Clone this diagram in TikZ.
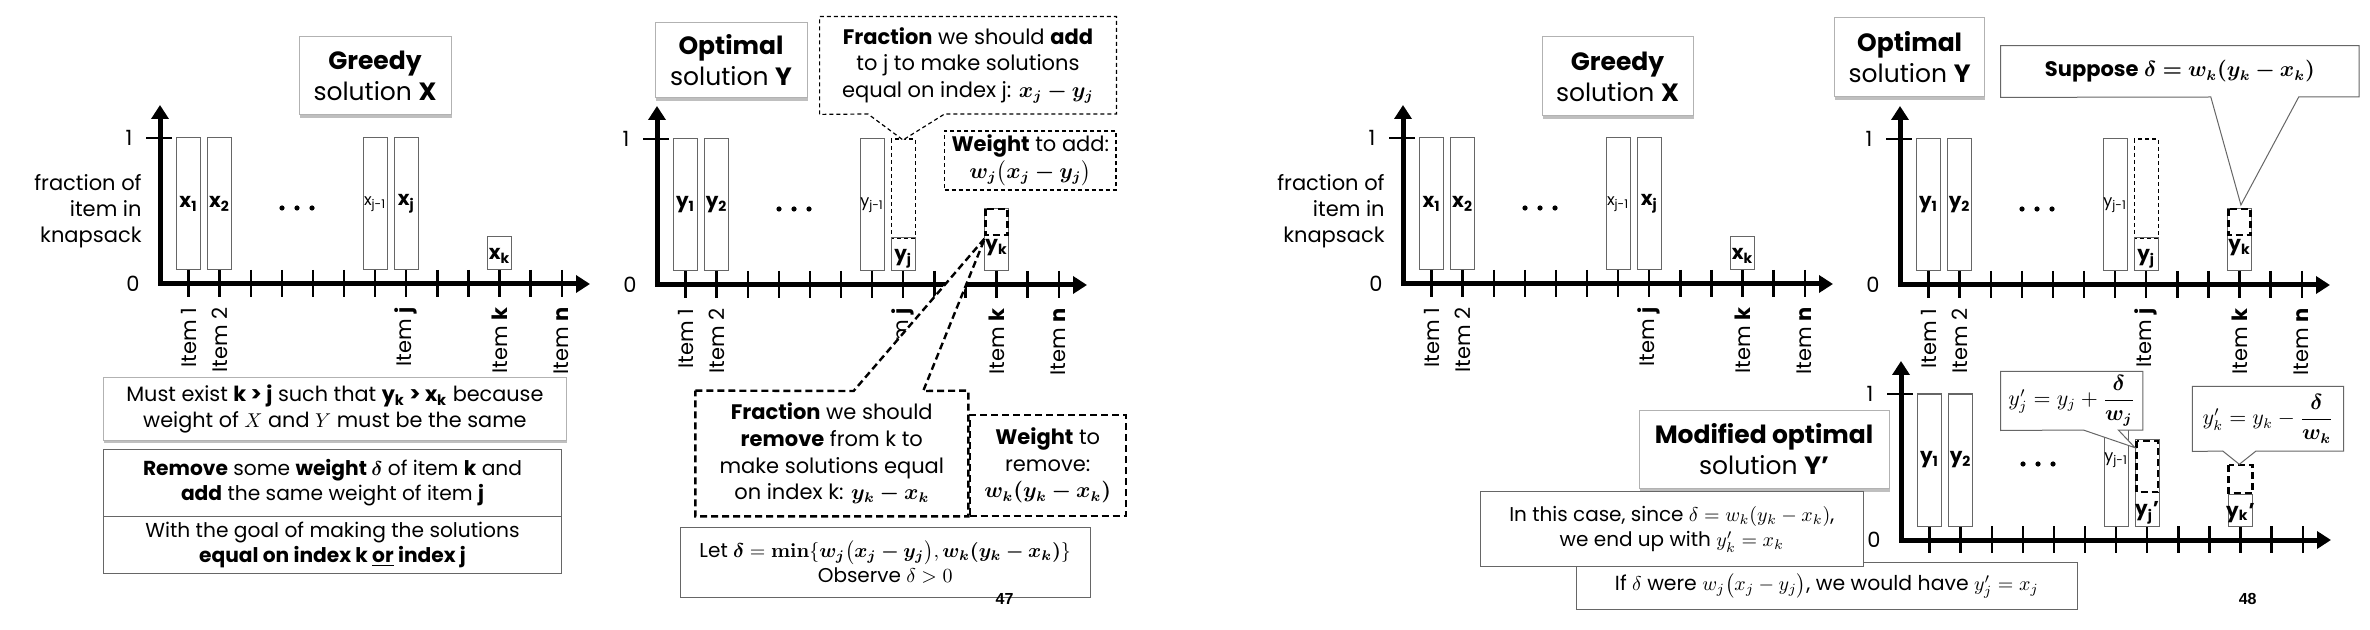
\documentclass[tikz,border=0pt]{standalone}
\usepackage{amsmath}
\usepackage{amssymb}
\usepackage{bm}
\usepackage[no-math]{fontspec}
\setmainfont{Poppins}
\newfontfamily\numfont{Liberation Sans}
\usetikzlibrary{arrows.meta,shadows}

\tikzset{
  axisline/.style={line width=2.5pt, line join=miter, {Triangle[length=7pt,width=8.5pt]}-{Triangle[length=7pt,width=8.5pt]}},
  tickline/.style={line width=1.2pt},
  barline/.style={draw=black!60, line width=0.5pt},
  bar/.style={barline, minimum width=12pt, minimum height=66pt, inner sep=0pt, font=\fontsize{10}{12}\selectfont\bfseries},
  barlbl/.style={inner sep=0pt, font=\fontsize{10}{12}\selectfont\bfseries},
  smallbar/.style={font=\fontsize{8}{9}\selectfont},
  itemlbl/.style={rotate=90, anchor=east, inner sep=0pt, font=\fontsize{10.5}{12}\selectfont},
  axlbl/.style={inner sep=0pt, font=\fontsize{10.5}{13}\selectfont},
  titlebox/.style={draw=black!30, line width=0.5pt, fill=white, align=center, inner sep=0pt,
    drop shadow={shadow xshift=0.4pt, shadow yshift=-1.6pt, fill=black!50}, font=\fontsize{12.5}{15.5}\selectfont},
  textbox/.style={draw=black!60, line width=0.5pt, fill=white, align=center, inner sep=0pt, font=\fontsize{10.1}{12.5}\selectfont},
  calltext/.style={fill=white, align=center, inner sep=0pt, font=\fontsize{10.5}{13.3}\selectfont},
  thindash/.style={line width=0.6pt, dash pattern=on 2pt off 1.5pt},
  thickdash/.style={line width=1.2pt, dash pattern=on 3.5pt off 2pt},
  pagenum/.style={inner sep=0pt, font=\numfont\bfseries\fontsize{8}{9}\selectfont}
}

% axes, ticks, 0/1 and dots of one chart
\newcommand{\chartaxes}[1]{%
  \draw[axisline] (0,-179) -- (0,0) -- (430,0);
  \draw[tickline] (-14,-146) -- (12,-146);
  \foreach \i in {0,...,12} \draw[tickline] ({28.5+31.1*\i},-14) -- ({28.5+31.1*\i},13);
  \node[axlbl] (#1one) at (-31,-146) {1};
  \node[axlbl] (#1zero) at (-27,0) {0};
  \foreach \d in {-15,0,15} \fill (137+\d,-76) circle (1.3pt);
}
% item names under the axis
\newcommand{\itemlabels}[1]{%
  \node[itemlbl] (#1it1) at (28.5,23) {Item 1};
  \node[itemlbl] (#1it2) at (59.6,23) {Item 2};
  \node[itemlbl] (#1itj) at (246.2,23) {Item \textbf{j}};
  \node[itemlbl] (#1itk) at (339.5,23) {Item \textbf{k}};
  \node[itemlbl] (#1itn) at (401.7,23) {Item \textbf{n}};
}

\begin{document}
\begin{tikzpicture}[x=0.5pt,y=0.5pt,yscale=-1,xscale=1]
\useasboundingbox (0,0) rectangle (2370,630);
\fill[white] (0,0) rectangle (2370,630);

%%%%%%%%%%%%%%%% slide 47

% greedy chart
\begin{scope}[shift={(160,284)}]
\chartaxes{ga}
\itemlabels{ga}
\node[axlbl, align=right, anchor=east] (gafrac) at (-18,-73) {fraction of\\item in\\knapsack};
\node[bar] (gax1) at (28.5,-80) {x\textsubscript{1}};
\node[bar] (gax2) at (59.6,-80) {x\textsubscript{2}};
\node[bar, smallbar] (gaxj1) at (215.1,-80) {x\textsubscript{j-1}};
\node[bar] (gaxj) at (246.2,-80) {x\textsubscript{j}};
\draw[barline] (327.5,-47) rectangle (351.5,-14);
\node[barlbl] (gaxk) at (339.5,-28) {x\textsubscript{k}};
\end{scope}

% optimal chart
\begin{scope}[shift={(657,285)}]
\chartaxes{oa}
\itemlabels{oa}
\node[bar] (oay1) at (28.5,-80) {y\textsubscript{1}};
\node[bar] (oay2) at (59.6,-80) {y\textsubscript{2}};
\node[bar, smallbar] (oayj1) at (215.1,-80) {y\textsubscript{j-1}};
\draw[thindash] (234.2,-146) rectangle (258.2,-47);
\draw[barline] (234.2,-47) rectangle (258.2,-14);
\node[barlbl] (oayj) at (246.2,-26) {y\textsubscript{j}};
\draw[barline] (327.5,-76) rectangle (351.5,-14);
\draw[thickdash] (328.5,-76) rectangle (350.5,-50);
\node[barlbl] (oayk) at (339.5,-37) {y\textsubscript{k}};
\end{scope}

% Text Node
\node[titlebox, minimum width=76pt, minimum height=39pt] (greedya) at (375,76) {\textbf{Greedy}\\solution \textbf{X}};
% Text Node
\node[titlebox, minimum width=76pt, minimum height=37.5pt] (opta) at (731,60.5) {\textbf{Optimal}\\solution \textbf{Y}};

% callout: fraction to add
\coordinate (fraddL) at (868,114);
\coordinate (fraddR) at (944.6,114);
\coordinate (fraddT) at (903,140);
\node[calltext, minimum width=148pt, minimum height=48.5pt] (fradd) at (968,65.5) {\textbf{Fraction} we should \textbf{add}\\to j to make solutions\\equal on index j: $\bm{x_j-y_j}$};
\fill[white] (fraddL) -- (fraddT) -- (fraddR) -- cycle;
\draw[thindash] (fradd.south west) |- (fradd.north east) |- (fraddR) -- (fraddT) -- (fraddL) -- cycle;

% Text Node
\node[calltext, draw, thindash, minimum width=85.7pt, minimum height=29.5pt] (wadd) at (1030.3,160.5) {\textbf{Weight} to add:\\$\bm{w_j\big(x_j-y_j\big)}$};

% callout: fraction to remove
\coordinate (frremL) at (853.6,391);
\coordinate (frremR) at (923.2,391);
\coordinate (frremT) at (985,238);
\node[calltext, minimum width=136.1pt, minimum height=62.5pt] (frrem) at (831.8,453.5) {\textbf{Fraction} we should\\\textbf{remove} from k to\\make solutions equal\\on index k: $\bm{y_k-x_k}$};
\fill[white] (frremL) -- (frremT) -- (frremR) -- cycle;
\draw[thickdash] (frrem.north west) -- (frremL) -- (frremT) -- (frremR) -- (frrem.north east) |- (frrem.south west) -- cycle;

% Text Node
\node[calltext, draw, thickdash, minimum width=78pt, minimum height=50.5pt] (wrem) at (1047.7,465.5) {\textbf{Weight} to\\remove:\\$\bm{w_k(y_k-x_k)}$};

% Text Node
\node[textbox, font=\fontsize{10}{12.5}\selectfont, minimum width=205pt, minimum height=35pt] (letdelta) at (885.2,562) {Let $\bm{\delta}=\mathbf{min}\{\bm{w_j\big(x_j-y_j\big)},\bm{w_k(y_k-x_k)}\}$\\Observe $\delta>0$};

% Text Node
\node[titlebox, font=\fontsize{10.4}{12.8}\selectfont, minimum width=231.3pt, minimum height=31pt] (musta) at (334.9,409) {Must exist \textbf{k > j} such that \textbf{y\textsubscript{k} > x\textsubscript{k}} because\\weight of $X$ and $Y$ must be the same};
% Text Node
\node[textbox, minimum width=229pt, minimum height=33.5pt] (removea) at (332.5,482.5) {\textbf{Remove} some \textbf{weight $\bm{\delta}$} of item \textbf{k} and\\\textbf{add} the same weight of item \textbf{j}};
% Text Node
\node[textbox, minimum width=229pt, minimum height=28.5pt] (goala) at (332.5,544.5) {With the goal of making the solutions\\\textbf{equal on index k \underline{or} index j}};

\node[pagenum] (pga) at (1004.6,599) {47};

%%%%%%%%%%%%%%%% slide 48

% greedy chart
\begin{scope}[shift={(1403,284)}]
\chartaxes{gb}
\itemlabels{gb}
\node[axlbl, align=right, anchor=east] (gbfrac) at (-18,-73) {fraction of\\item in\\knapsack};
\node[bar] (gbx1) at (28.5,-80) {x\textsubscript{1}};
\node[bar] (gbx2) at (59.6,-80) {x\textsubscript{2}};
\node[bar, smallbar] (gbxj1) at (215.1,-80) {x\textsubscript{j-1}};
\node[bar] (gbxj) at (246.2,-80) {x\textsubscript{j}};
\draw[barline] (327.5,-47) rectangle (351.5,-14);
\node[barlbl] (gbxk) at (339.5,-28) {x\textsubscript{k}};
\end{scope}

% optimal chart
\begin{scope}[shift={(1900,285)}]
\chartaxes{ob}
\itemlabels{ob}
\node[bar] (oby1) at (28.5,-80) {y\textsubscript{1}};
\node[bar] (oby2) at (59.6,-80) {y\textsubscript{2}};
\node[bar, smallbar] (obyj1) at (215.1,-80) {y\textsubscript{j-1}};
\draw[thindash] (234.2,-146) rectangle (258.2,-47);
\draw[barline] (234.2,-47) rectangle (258.2,-14);
\node[barlbl] (obyj) at (246.2,-26) {y\textsubscript{j}};
\draw[barline] (327.5,-76) rectangle (351.5,-14);
\draw[thickdash] (328.5,-76) rectangle (350.5,-50);
\node[barlbl] (obyk) at (339.5,-37) {y\textsubscript{k}};
\end{scope}

% modified chart
\begin{scope}[shift={(1901,540)}]
\chartaxes{mb}
\node[bar] (mby1) at (28.5,-80) {y\textsubscript{1}};
\node[bar] (mby2) at (59.6,-80) {y\textsubscript{2}};
\node[bar, smallbar] (mbyj1) at (215.1,-80) {y\textsubscript{j-1}};
\draw[barline] (234.2,-101) rectangle (258.2,-14);
\draw[thickdash] (235.5,-99) rectangle (257,-48);
\node[barlbl] (mbyj) at (246.2,-27) {y\textsubscript{j}'};
\draw[barline] (327.5,-46) rectangle (351.5,-14);
\draw[thickdash] (327.5,-75) rectangle (351.5,-47);
\node[barlbl] (mbyk) at (339.5,-27) {y\textsubscript{k}'};
\end{scope}

% Text Node
\node[titlebox, minimum width=75.5pt, minimum height=39.5pt] (greedyb) at (1617.5,76.5) {\textbf{Greedy}\\solution \textbf{X}};
% Text Node
\node[titlebox, minimum width=75pt, minimum height=39.5pt] (optb) at (1909.6,57.5) {\textbf{Optimal}\\solution \textbf{Y}};

% callout: suppose
\coordinate (supL) at (2210.8,97);
\coordinate (supR) at (2298.7,97);
\coordinate (supT) at (2240.9,205);
\node[calltext, minimum width=178.9pt, minimum height=25.5pt] (suppose) at (2179.9,71.5) {\textbf{Suppose} $\bm{\delta=w_k(y_k-x_k)}$};
\fill[white] (supL) -- (supT) -- (supR) -- cycle;
\draw[barline] (suppose.south west) |- (suppose.north east) |- (supR) -- (supT) -- (supL) -- cycle;

% callout: new y_j
\coordinate (nyjL) at (2083.3,430);
\coordinate (nyjR) at (2118.3,430);
\coordinate (nyjT) at (2135,447.7);
\node[calltext, minimum width=70.7pt, minimum height=29.2pt] (nyj) at (2071.7,400.9) {$y'_j=y_j+\dfrac{\bm{\delta}}{\bm{w_j}}$};
\fill[white] (nyjL) -- (nyjT) -- (nyjR) -- cycle;
\draw[barline] (nyj.south west) |- (nyj.north east) |- (nyjR) -- (nyjT) -- (nyjL) -- cycle;

% callout: new y_k
\coordinate (nykL) at (2222.7,451);
\coordinate (nykR) at (2256,451);
\coordinate (nykT) at (2239.3,464.3);
\node[calltext, minimum width=75.3pt, minimum height=32.2pt] (nyk) at (2268,418.9) {$y'_k=y_k-\dfrac{\bm{\delta}}{\bm{w_k}}$};
\fill[white] (nykL) -- (nykT) -- (nykR) -- cycle;
\draw[barline] (nyk.south west) |- (nyk.north east) |- (nykR) -- (nykT) -- (nykL) -- cycle;

% Text Node
\node[titlebox, minimum width=125pt, minimum height=39pt] (modb) at (1764,449.5) {\textbf{Modified optimal}\\solution \textbf{Y'}};
% Text Node
\node[textbox, font=\fontsize{10.2}{12.5}\selectfont, minimum width=250.4pt, minimum height=23.3pt] (ifb) at (1826.9,586) {If $\delta$ were $w_j\big(x_j-y_j\big)$, we would have $y'_j=x_j$};
% Text Node
\node[textbox, font=\fontsize{10}{12.5}\selectfont, minimum width=191.5pt, minimum height=37.5pt] (caseb) at (1671.8,529.2) {In this case, since $\delta=w_k(y_k-x_k)$,\\we end up with $y'_k=x_k$};

\node[pagenum] (pgb) at (2247.7,599.3) {48};

\end{tikzpicture}
\end{document}
